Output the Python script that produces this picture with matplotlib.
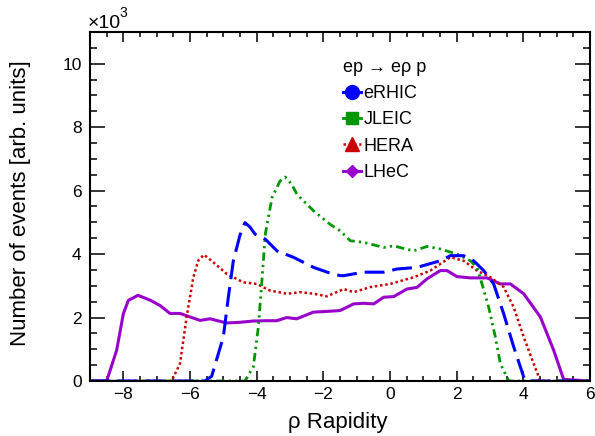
import matplotlib
matplotlib.use("Agg")
import matplotlib.pyplot as plt
from matplotlib.lines import Line2D
from matplotlib.ticker import MultipleLocator

plt.rcParams['font.family'] = ['Liberation Sans', 'DejaVu Sans']

# rho rapidity vs number of events (x10^3)
lhec_x = [-9, -8.5, -8.2, -8.0, -7.85, -7.56, -7.2, -6.9, -6.6, -6.3, -6.0, -5.7, -5.4,
          -5.1, -4.9, -4.5, -4.1, -3.7, -3.4, -3.1, -2.8, -2.3, -1.8, -1.5, -1.09, -0.79,
          -0.49, -0.19, 0.11, 0.51, 0.81, 1.11, 1.51, 1.71, 2.01, 2.41, 2.91, 3.31, 3.61,
          4.01, 4.51, 4.91, 5.21, 6]
lhec_y = [0, 0, 0.97, 2.12, 2.54, 2.7, 2.55, 2.38, 2.13, 2.13, 2.02, 1.91, 1.96,
          1.88, 1.83, 1.85, 1.89, 1.9, 1.9, 2.0, 1.96, 2.17, 2.2, 2.22, 2.43, 2.45,
          2.43, 2.64, 2.66, 2.9, 2.95, 3.22, 3.48, 3.48, 3.29, 3.25, 3.25, 3.06, 3.06,
          2.75, 2.02, 0.97, 0.05, 0]

erhic_x = [-9, -5.55, -5.35, -5.0, -4.85, -4.7, -4.5, -4.35, -4.2, -4.05, -3.74, -3.39,
           -2.9, -2.29, -1.8, -1.49, -1.39, -0.79, -0.19, 0.21, 0.81, 1.51, 1.81, 2.21,
           2.51, 2.81, 3.11, 3.41, 3.71, 4.01, 4.1, 6]
erhic_y = [0, 0, 0.15, 1.39, 2.64, 3.79, 4.6, 4.99, 4.85, 4.63, 4.47, 4.1,
           3.9, 3.58, 3.4, 3.32, 3.32, 3.43, 3.43, 3.53, 3.58, 3.79, 3.95, 3.95,
           3.79, 3.48, 3.06, 2.12, 1.08, 0.13, 0, 0]

jleic_x = [-9, -4.35, -4.1, -3.95, -3.85, -3.74, -3.54, -3.3, -3.14, -2.95, -2.79, -2.29,
           -1.8, -1.49, -1.19, -0.79, -0.19, 0.11, 0.7, 1.11, 1.51, 2.01, 2.41, 2.61,
           2.76, 2.96, 3.16, 3.31, 3.56, 6]
jleic_y = [0, 0, 0.45, 1.7, 3.06, 4.63, 5.78, 6.3, 6.43, 6.2, 5.88, 5.36,
           4.94, 4.73, 4.42, 4.37, 4.21, 4.26, 4.1, 4.24, 4.16, 4.0, 3.79, 3.58,
           3.06, 2.33, 1.39, 0.55, 0, 0]

hera_x = [-9, -6.55, -6.3, -6.1, -5.9, -5.75, -5.58, -5.3, -4.9, -4.4, -4.0, -3.6, -3.09,
          -2.69, -2.29, -1.89, -1.49, -1.39, -1.09, -0.59, 0.01, 0.71, 1.21, 1.51, 1.81,
          2.21, 2.61, 3.01, 3.41, 3.71, 4.01, 4.31, 4.51, 6]
hera_y = [0, 0, 0.55, 2.02, 3.27, 3.8, 3.98, 3.74, 3.38, 3.11, 3.06, 2.85, 2.75,
          2.8, 2.75, 2.67, 2.85, 2.9, 2.8, 2.96, 3.06, 3.27, 3.48, 3.69, 3.9,
          3.79, 3.48, 3.27, 2.96, 2.33, 1.39, 0.55, 0, 0]

fig = plt.figure(figsize=(5.95, 4.36), dpi=100)
ax = fig.add_axes([90 / 595, 55 / 436, 500 / 595, 349 / 436])

blue, green, red, purple = '#0000ff', '#009600', '#cc0000', '#9900cc'

ax.plot(lhec_x, lhec_y, color=purple, lw=2.2, ls='-')
ax.plot(hera_x, hera_y, color=red, lw=1.8, ls=(0, (1, 1.1)))
ax.plot(jleic_x, jleic_y, color=green, lw=2.0, ls=(0, (3, 1.5, 0.8, 1.5, 0.8, 1.5)))
ax.plot(erhic_x, erhic_y, color=blue, lw=2.2, ls=(0, (6.5, 2.6)))

ax.set_xlim(-9, 6)
ax.set_ylim(0, 11)
ax.xaxis.set_major_locator(MultipleLocator(2))
ax.xaxis.set_minor_locator(MultipleLocator(0.5))
ax.yaxis.set_major_locator(MultipleLocator(2))
ax.yaxis.set_minor_locator(MultipleLocator(0.5))
ax.tick_params(axis='both', which='both', direction='in', top=True, right=True,
               labelsize=12.5, width=1.1)
ax.tick_params(axis='x', which='major', length=7, pad=4)
ax.tick_params(axis='x', which='minor', length=3.6)
ax.tick_params(axis='y', which='major', length=10.8, pad=6)
ax.tick_params(axis='y', which='minor', length=5)
for sp in ax.spines.values():
    sp.set_linewidth(1.5)

ax.set_xlabel('ρ Rapidity', fontsize=16)
ax.set_ylabel('Number of events [arb. units]', fontsize=16)
ax.xaxis.set_label_coords(0.495, -0.088)
ax.yaxis.set_label_coords(-0.118, 0.51)

# exponent label in the top-left corner
ax.text(-0.004, 1.0, '×10', transform=ax.transAxes,
        fontsize=14, ha='left', va='bottom')
ax.text(0.059, 1.035, '3', transform=ax.transAxes,
        fontsize=10, ha='left', va='bottom')

handles = [
    Line2D([], [], color=blue, lw=2.2, marker='o', markersize=10),
    Line2D([], [], color=green, lw=2.0, marker='s', markersize=9),
    Line2D([], [], color=red, lw=1.8, ls=(0, (1, 1.1)), marker='^', markersize=10),
    Line2D([], [], color=purple, lw=2.2, marker='D', markersize=6.5),
]
labels = ['eRHIC', 'JLEIC', 'HERA', 'LHeC']
leg = ax.legend(handles, labels, title='ep \u2192 eρ p', title_fontsize=13,
                fontsize=13, frameon=False, loc='upper left',
                bbox_to_anchor=(0.48, 0.96), handlelength=1.0, handletextpad=0.15,
                labelspacing=0.52, alignment='left', borderpad=0.2)

fig.savefig('out.png', dpi=100)
